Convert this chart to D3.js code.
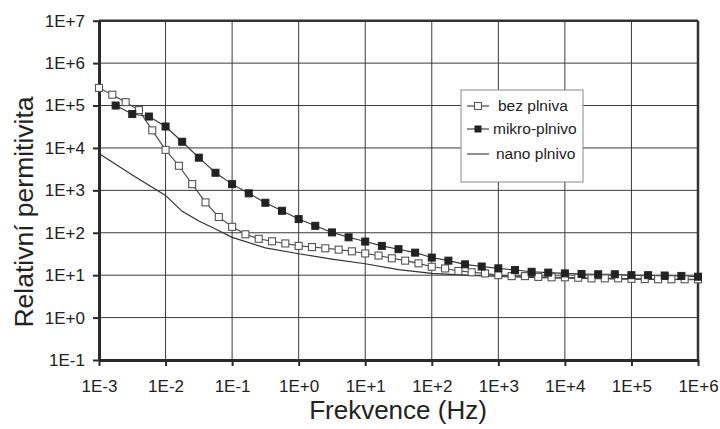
<!DOCTYPE html>
<html>
<head>
<meta charset="utf-8">
<script src="https://cdn.jsdelivr.net/npm/d3@7"></script>
<style>
  html, body { margin: 0; padding: 0; background: #fff; }
  svg { display: block; font-family: "Liberation Sans", Arial, sans-serif; }
</style>
</head>
<body>
<svg id="chart" width="720" height="429"></svg>
<script>
// ---- data ----
const xTickValues = [1e-3, 1e-2, 1e-1, 1e0, 1e1, 1e2, 1e3, 1e4, 1e5, 1e6];
const xTickLabels = ["1E-3", "1E-2", "1E-1", "1E+0", "1E+1", "1E+2", "1E+3", "1E+4", "1E+5", "1E+6"];
const yTickValues = [1e-1, 1e0, 1e1, 1e2, 1e3, 1e4, 1e5, 1e6, 1e7];
const yTickLabels = ["1E-1", "1E+0", "1E+1", "1E+2", "1E+3", "1E+4", "1E+5", "1E+6", "1E+7"];

const seriesNames = ["bez plniva", "mikro-plnivo", "nano plnivo"];

// bez plniva (open squares)
const bezFreq = [
  1e-3, 1.585e-3, 2.512e-3, 3.981e-3, 6.31e-3,
  1e-2, 1.585e-2, 2.512e-2, 3.981e-2, 6.31e-2,
  1e-1, 1.585e-1, 2.512e-1, 3.981e-1, 6.31e-1,
  1e0, 1.585, 2.512, 3.981, 6.31,
  1e1, 15.85, 25.12, 39.81, 63.1,
  1e2, 158.5, 251.2, 398.1, 631,
  1e3, 1585, 2512, 3981, 6310,
  1e4, 15850, 25120, 39810, 63100,
  1e5, 158500, 251200, 398100, 631000,
  1e6
];
const bezVal = [
  2.6e5, 1.8e5, 1.2e5, 7.8e4, 2.6e4,
  9.0e3, 3.8e3, 1.4e3, 520, 235,
  138, 92, 72, 63, 56,
  49, 46, 43, 40, 36.5,
  32.5, 29, 25, 22, 19,
  15.8, 14.4, 12.6, 11.7, 11,
  10, 9.5, 9.5, 9.1, 8.9,
  8.9, 8.7, 8.4, 8.4, 8.4,
  8.2, 8.1, 8.0, 8.0, 8.0,
  8.0
];

// mikro-plnivo (filled squares)
const mikroFreq = [
  1.778e-3, 3.162e-3, 5.623e-3,
  1e-2, 1.778e-2, 3.162e-2, 5.623e-2,
  1e-1, 1.778e-1, 3.162e-1, 5.623e-1,
  1e0, 1.778, 3.162, 5.623,
  1e1, 17.78, 31.62, 56.23,
  1e2, 177.8, 316.2, 562.3,
  1e3, 1778, 3162, 5623,
  1e4, 17780, 31620, 56230,
  1e5, 177800, 316200, 562300,
  1e6
];
const mikroVal = [
  1.0e5, 6.3e4, 5.5e4,
  3.2e4, 1.4e4, 5.9e3, 2.6e3,
  1.4e3, 850, 510, 330,
  210, 146, 102, 78,
  62, 49, 41, 34,
  26, 22, 18, 16,
  14.5, 13.2, 12, 11.5,
  11, 10.7, 10.5, 10.5,
  10, 10, 9.8, 9.6,
  9.2
];

// nano plnivo (line only)
const nanoFreq = [1e-3, 3.162e-3, 1e-2, 1.778e-2, 3.162e-2, 5.623e-2, 1e-1, 3.162e-1, 1e0, 3.162,
                  1e1, 31.62, 1e2, 316.2, 1e3, 3162, 1e4, 31620, 1e5, 316200, 1e6];
const nanoVal = [7400, 2300, 760, 320, 190, 123, 78, 44, 32, 24,
                 18.6, 13.5, 11, 10, 9.3, 8.9, 8.5, 8.3, 8.1, 7.9, 7.8];

// ---- chart ----
const svg = d3.select("#chart");
const mLeft = 99, mRight = 698, mTop = 20.7, mBottom = 360;

const x = d3.scaleLog().domain([1e-3, 1e6]).range([mLeft, mRight]);
const y = d3.scaleLog().domain([1e-1, 1e7]).range([mBottom, mTop]);

const ink = "#2a2a2a";

// gridlines
const grid = svg.append("g");
grid.selectAll("line.vx").data(xTickValues).enter().append("line")
  .attr("x1", d => x(d)).attr("x2", d => x(d))
  .attr("y1", mTop).attr("y2", mBottom)
  .attr("stroke", "#3a3a3a").attr("stroke-width", 1);
grid.selectAll("line.hy").data(yTickValues).enter().append("line")
  .attr("x1", mLeft).attr("x2", mRight)
  .attr("y1", d => y(d)).attr("y2", d => y(d))
  .attr("stroke", "#3a3a3a").attr("stroke-width", 1);

// frame (top/right)
svg.append("line").attr("x1", mLeft).attr("x2", mRight).attr("y1", mTop).attr("y2", mTop)
  .attr("stroke", "#333").attr("stroke-width", 2.5);
svg.append("line").attr("x1", mRight).attr("x2", mRight).attr("y1", mTop).attr("y2", mBottom)
  .attr("stroke", "#333").attr("stroke-width", 2.5);

// axes
const xAxis = d3.axisBottom(x).tickValues(xTickValues)
  .tickFormat((d, i) => xTickLabels[i]).tickSize(6).tickSizeOuter(0);
const yAxis = d3.axisLeft(y).tickValues(yTickValues)
  .tickFormat((d, i) => yTickLabels[i]).tickSize(6).tickSizeOuter(0);

const gx = svg.append("g").attr("transform", `translate(0,${mBottom})`).call(xAxis);
const gy = svg.append("g").attr("transform", `translate(${mLeft},0)`).call(yAxis);

[gx, gy].forEach(g => {
  g.select(".domain").attr("stroke", ink).attr("stroke-width", 3);
  g.selectAll(".tick line").attr("stroke", ink).attr("stroke-width", 2);
  g.selectAll(".tick text").attr("fill", "#222").attr("font-size", 17)
    .attr("font-family", "'Liberation Sans', Arial, sans-serif");
});
gx.selectAll(".tick text").attr("dy", "0.71em").attr("y", 19.5);
gy.selectAll(".tick text").attr("x", -14);

// lines
const line = d3.line().x(d => x(d[0])).y(d => y(d[1]));

const bezData = bezFreq.map((f, i) => [f, bezVal[i]]);
const mikroData = mikroFreq.map((f, i) => [f, mikroVal[i]]);
const nanoData = nanoFreq.map((f, i) => [f, nanoVal[i]]);

const plot = svg.append("g");
plot.append("path").datum(nanoData).attr("d", line)
  .attr("fill", "none").attr("stroke", "#333").attr("stroke-width", 1.2);
plot.append("path").datum(bezData).attr("d", line)
  .attr("fill", "none").attr("stroke", "#444").attr("stroke-width", 1.1);
plot.append("path").datum(mikroData).attr("d", line)
  .attr("fill", "none").attr("stroke", "#333").attr("stroke-width", 1.1);

const ms = 7;
plot.selectAll("rect.bez").data(bezData).enter().append("rect")
  .attr("x", d => x(d[0]) - ms / 2).attr("y", d => y(d[1]) - ms / 2)
  .attr("width", ms).attr("height", ms)
  .attr("fill", "#fff").attr("stroke", "#555").attr("stroke-width", 1.1);
plot.selectAll("rect.mikro").data(mikroData).enter().append("rect")
  .attr("x", d => x(d[0]) - ms / 2).attr("y", d => y(d[1]) - ms / 2)
  .attr("width", ms).attr("height", ms)
  .attr("fill", "#222").attr("stroke", "#222").attr("stroke-width", 1);

// legend
const lg = svg.append("g");
lg.append("rect").attr("x", 461).attr("y", 90).attr("width", 122).attr("height", 92)
  .attr("fill", "#fff").attr("stroke", "#888").attr("stroke-width", 1);
const legendY = [106, 129, 154];
const legendTextX = [498, 493, 496];
seriesNames.forEach((name, i) => {
  const ly = legendY[i];
  lg.append("line").attr("x1", 467).attr("x2", 489).attr("y1", ly).attr("y2", ly)
    .attr("stroke", "#333").attr("stroke-width", 1.1);
  if (i === 0) {
    lg.append("rect").attr("x", 478 - 3.5).attr("y", ly - 3.5).attr("width", 7).attr("height", 7)
      .attr("fill", "#fff").attr("stroke", "#555").attr("stroke-width", 1.1);
  } else if (i === 1) {
    lg.append("rect").attr("x", 478 - 3.5).attr("y", ly - 3.5).attr("width", 7).attr("height", 7)
      .attr("fill", "#222");
  }
  lg.append("text").attr("x", legendTextX[i]).attr("y", ly).attr("dy", "0.35em")
    .attr("font-size", 15.5).attr("fill", "#222").text(name);
});

// axis titles
svg.append("text").attr("x", 398).attr("y", 419).attr("text-anchor", "middle")
  .attr("font-size", 26).attr("fill", "#222").text("Frekvence (Hz)");
svg.append("text").attr("transform", "translate(33,212) rotate(-90)")
  .attr("text-anchor", "middle").attr("font-size", 26.5).attr("fill", "#222")
  .text("Relativní permitivita");
</script>
</body>
</html>
